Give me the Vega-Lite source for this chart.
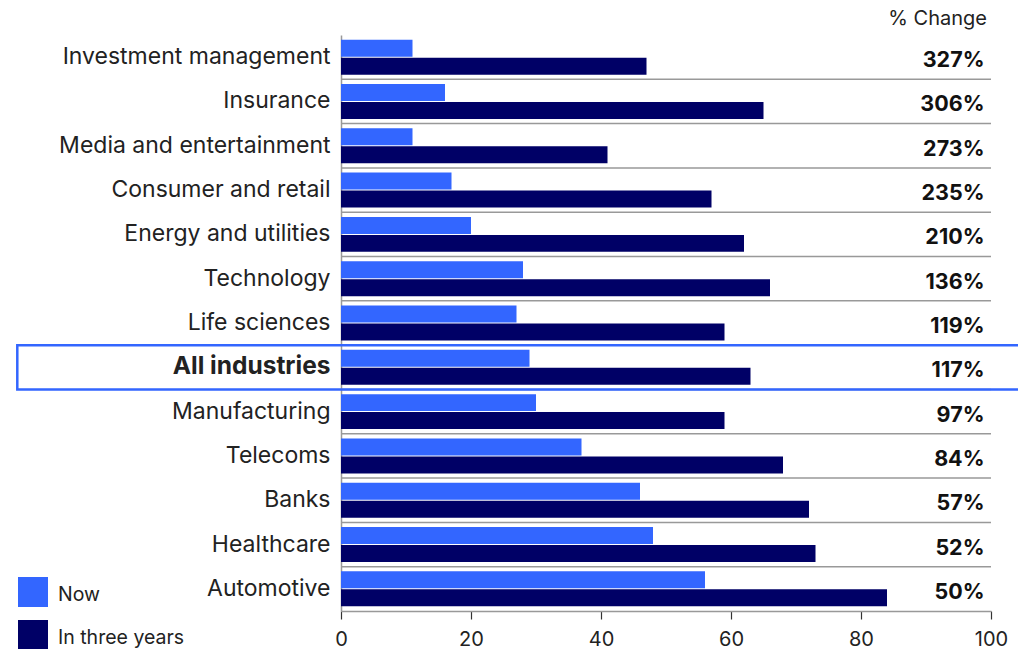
{
  "$schema": "https://vega.github.io/schema/vega-lite/v6.json",
  "width": 650,
  "height": 576,
  "autosize": {"type": "none"},
  "padding": {"left": 341, "top": 35, "right": 27, "bottom": 38},
  "background": "white",
  "config": {"font": "Inter", "view": {"stroke": null}},
  "title": {"text": "% Change", "anchor": "end", "frame": "group", "fontSize": 20, "fontWeight": "normal", "color": "#222", "offset": 6, "dx": -4, "font": "Inter"},
  "datasets": {
    "bars": [
      {"cat": "Investment management", "series": "Now", "value": 11},
      {"cat": "Investment management", "series": "In three years", "value": 47},
      {"cat": "Insurance", "series": "Now", "value": 16},
      {"cat": "Insurance", "series": "In three years", "value": 65},
      {"cat": "Media and entertainment", "series": "Now", "value": 11},
      {"cat": "Media and entertainment", "series": "In three years", "value": 41},
      {"cat": "Consumer and retail", "series": "Now", "value": 17},
      {"cat": "Consumer and retail", "series": "In three years", "value": 57},
      {"cat": "Energy and utilities", "series": "Now", "value": 20},
      {"cat": "Energy and utilities", "series": "In three years", "value": 62},
      {"cat": "Technology", "series": "Now", "value": 28},
      {"cat": "Technology", "series": "In three years", "value": 66},
      {"cat": "Life sciences", "series": "Now", "value": 27},
      {"cat": "Life sciences", "series": "In three years", "value": 59},
      {"cat": "All industries", "series": "Now", "value": 29},
      {"cat": "All industries", "series": "In three years", "value": 63},
      {"cat": "Manufacturing", "series": "Now", "value": 30},
      {"cat": "Manufacturing", "series": "In three years", "value": 59},
      {"cat": "Telecoms", "series": "Now", "value": 37},
      {"cat": "Telecoms", "series": "In three years", "value": 68},
      {"cat": "Banks", "series": "Now", "value": 46},
      {"cat": "Banks", "series": "In three years", "value": 72},
      {"cat": "Healthcare", "series": "Now", "value": 48},
      {"cat": "Healthcare", "series": "In three years", "value": 73},
      {"cat": "Automotive", "series": "Now", "value": 56},
      {"cat": "Automotive", "series": "In three years", "value": 84}
    ],
    "pct": [
      {"cat": "Investment management", "pct": "327%"},
      {"cat": "Insurance", "pct": "306%"},
      {"cat": "Media and entertainment", "pct": "273%"},
      {"cat": "Consumer and retail", "pct": "235%"},
      {"cat": "Energy and utilities", "pct": "210%"},
      {"cat": "Technology", "pct": "136%"},
      {"cat": "Life sciences", "pct": "119%"},
      {"cat": "All industries", "pct": "117%"},
      {"cat": "Manufacturing", "pct": "97%"},
      {"cat": "Telecoms", "pct": "84%"},
      {"cat": "Banks", "pct": "57%"},
      {"cat": "Healthcare", "pct": "52%"},
      {"cat": "Automotive", "pct": "50%"}
    ],
    "highlight": [
      {"cat": "All industries", "x0": -49.8, "x1": 105}
    ]
  },
  "encoding": {
    "y": {
      "field": "cat",
      "type": "nominal",
      "sort": ["Investment management", "Insurance", "Media and entertainment", "Consumer and retail", "Energy and utilities", "Technology", "Life sciences", "All industries", "Manufacturing", "Telecoms", "Banks", "Healthcare", "Automotive"],
      "scale": {"paddingInner": 0, "paddingOuter": 0},
      "axis": {
        "title": null,
        "ticks": false,
        "grid": false,
        "domainColor": "#999",
        "domainWidth": 1.5,
        "labelFont": "Inter",
        "labelFontSize": {"condition": {"test": "datum.value === 'All industries'", "value": 24.5}, "value": 23},
        "labelColor": "#222",
        "labelPadding": 11,
        "labelLimit": 400,
        "labelFontWeight": {"condition": {"test": "datum.value === 'All industries'", "value": "bold"}, "value": "normal"}
      }
    }
  },
  "layer": [
    {
      "data": {"name": "pct"},
      "transform": [{"filter": "datum.cat !== 'Investment management'"}],
      "mark": {"type": "rule", "color": "#999", "strokeWidth": 1.5},
      "encoding": {
        "y": {
          "field": "cat",
          "type": "nominal",
          "bandPosition": 0,
          "sort": ["Investment management", "Insurance", "Media and entertainment", "Consumer and retail", "Energy and utilities", "Technology", "Life sciences", "All industries", "Manufacturing", "Telecoms", "Banks", "Healthcare", "Automotive"]
        },
        "x": {"datum": 0, "type": "quantitative", "scale": {"domain": [0, 100]}},
        "x2": {"datum": 100}
      }
    },
    {
      "data": {"name": "bars"},
      "mark": {"type": "bar"},
      "encoding": {
        "x": {
          "field": "value",
          "type": "quantitative",
          "scale": {"domain": [0, 100]},
          "axis": {
            "title": null,
            "values": [0, 20, 40, 60, 80, 100],
            "grid": false,
            "labelFlush": false,
            "domainColor": "#999",
            "domainWidth": 1.5,
            "tickColor": "#333",
            "tickSize": 8,
            "tickWidth": 1.2,
            "labelFont": "Inter",
            "labelFontSize": 20,
            "labelColor": "#222",
            "labelPadding": 10
          }
        },
        "yOffset": {
          "field": "series",
          "type": "nominal",
          "sort": ["Now", "In three years"],
          "scale": {"domain": ["Now", "In three years"], "paddingInner": 0.056, "paddingOuter": 0.26}
        },
        "color": {
          "field": "series",
          "type": "nominal",
          "sort": ["Now", "In three years"],
          "scale": {"domain": ["Now", "In three years"], "range": ["#3366ff", "#000066"]},
          "legend": {
            "title": null,
            "orient": "none",
            "legendX": -323,
            "legendY": 542,
            "padding": 0,
            "symbolType": "square",
            "symbolSize": 900,
            "symbolStrokeWidth": 0,
            "symbolOpacity": 1,
            "labelFont": "Inter",
            "labelFontSize": 19.5,
            "labelColor": "#222",
            "labelOffset": 10,
            "rowPadding": 13,
            "labelBaseline": "middle",
            "encode": {"labels": {"update": {"dy": {"value": 3}}}}
          }
        }
      }
    },
    {
      "data": {"name": "highlight"},
      "mark": {"type": "rect", "fill": null, "fillOpacity": 0, "stroke": "#3366ff", "strokeWidth": 2.5},
      "encoding": {
        "x": {"field": "x0", "type": "quantitative", "scale": {"domain": [0, 100]}},
        "x2": {"field": "x1"}
      }
    },
    {
      "data": {"name": "pct"},
      "mark": {"type": "text", "align": "right", "baseline": "middle", "dy": 4, "fontSize": 21.5, "fontWeight": "bold", "color": "#111", "font": "Inter"},
      "encoding": {
        "x": {"datum": 99.0, "type": "quantitative", "scale": {"domain": [0, 100]}},
        "text": {"field": "pct"}
      }
    }
  ]
}
